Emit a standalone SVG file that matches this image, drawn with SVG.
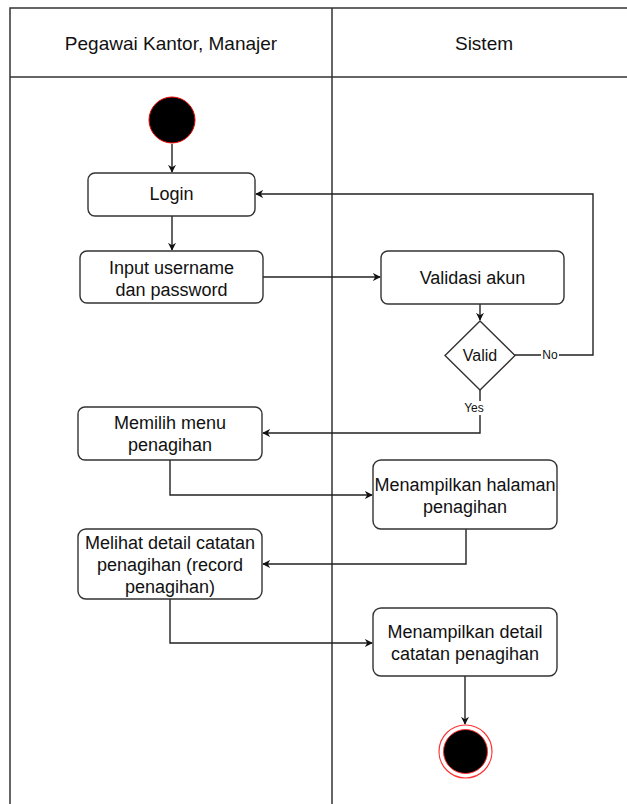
<svg xmlns="http://www.w3.org/2000/svg" width="627" height="804" viewBox="0 0 627 804">
  <style>
    .lane { fill: none; stroke: #333; stroke-width: 1.5; }
    .box { fill: #fff; stroke: #333; stroke-width: 1.4; }
    .txt { font-family: "Liberation Sans", Arial, sans-serif; font-size: 18px; fill: #111; text-anchor: middle; }
    .hdr { font-size: 19px; }
    .small { font-size: 12px; }
    .edge { fill: none; stroke: #222; stroke-width: 1.4; }
    .lbl-bg { fill: #fff; }
  </style>
  <defs>
    <marker id="arrow" viewBox="0 0 10 10" refX="9" refY="5" markerWidth="8" markerHeight="8" markerUnits="userSpaceOnUse" orient="auto">
      <path d="M0,0 L10,5 L0,10 L3,5 z" fill="#111"/>
    </marker>
  </defs>

  <rect width="627" height="804" fill="#fff"/>

  <!-- swimlanes -->
  <g id="lanes">
    <rect class="lane" x="10" y="8" width="660" height="830"/>
    <line class="lane" x1="10" y1="77" x2="670" y2="77"/>
    <line class="lane" x1="332" y1="8" x2="332" y2="838"/>
    <text class="txt hdr" x="171" y="50">Pegawai Kantor, Manajer</text>
    <text class="txt hdr" x="484" y="50">Sistem</text>
  </g>

  <!-- connectors -->
  <g id="connectors">
    <line class="edge" x1="172" y1="144" x2="172" y2="172" marker-end="url(#arrow)"/>
    <line class="edge" x1="172" y1="216" x2="172" y2="250" marker-end="url(#arrow)"/>
    <line class="edge" x1="263" y1="277" x2="380" y2="277" marker-end="url(#arrow)"/>
    <line class="edge" x1="480" y1="304" x2="480" y2="320" marker-end="url(#arrow)"/>
    <polyline class="edge" points="515,355 593,355 593,194 256,194" marker-end="url(#arrow)"/>
    <polyline class="edge" points="480,390 480,433 263,433" marker-end="url(#arrow)"/>
    <polyline class="edge" points="170,460 170,495 372,495" marker-end="url(#arrow)"/>
    <polyline class="edge" points="466,529 466,564 263,564" marker-end="url(#arrow)"/>
    <polyline class="edge" points="170,599 170,643 372,643" marker-end="url(#arrow)"/>
    <line class="edge" x1="465" y1="676" x2="465" y2="724" marker-end="url(#arrow)"/>
    <rect class="lbl-bg" x="541" y="348" width="18" height="14"/>
    <text class="txt small" x="550" y="359">No</text>
    <rect class="lbl-bg" x="462" y="401" width="23" height="14"/>
    <text class="txt small" x="474" y="412">Yes</text>
  </g>

  <!-- nodes -->
  <g id="start">
    <circle cx="172" cy="120" r="23" fill="#000" stroke="#e00" stroke-width="1"/>
  </g>
  <g id="login">
    <rect class="box" x="88" y="173" width="167" height="43" rx="7"/>
    <text class="txt" x="171.5" y="200">Login</text>
  </g>
  <g id="input">
    <rect class="box" x="80" y="251" width="183" height="52" rx="7"/>
    <text class="txt" x="171.5" y="274">Input username</text>
    <text class="txt" x="171.5" y="296">dan password</text>
  </g>
  <g id="validasi">
    <rect class="box" x="381" y="251" width="183" height="53" rx="7"/>
    <text class="txt" x="472.5" y="284">Validasi akun</text>
  </g>
  <g id="valid">
    <polygon class="box" points="480,321 515,355.5 480,390 445,355.5"/>
    <text class="txt" x="480" y="361" style="font-size:16px">Valid</text>
  </g>
  <g id="memilih">
    <rect class="box" x="78" y="407" width="184" height="53" rx="7"/>
    <text class="txt" x="170" y="429">Memilih menu</text>
    <text class="txt" x="170" y="451">penagihan</text>
  </g>
  <g id="halaman">
    <rect class="box" x="373" y="460" width="184" height="69" rx="8"/>
    <text class="txt" x="465" y="491">Menampilkan halaman</text>
    <text class="txt" x="465" y="513">penagihan</text>
  </g>
  <g id="melihat">
    <rect class="box" x="78" y="529" width="184" height="70" rx="8"/>
    <text class="txt" x="170" y="549">Melihat detail catatan</text>
    <text class="txt" x="170" y="571">penagihan (record</text>
    <text class="txt" x="170" y="593">penagihan)</text>
  </g>
  <g id="detail">
    <rect class="box" x="373" y="608" width="184" height="68" rx="8"/>
    <text class="txt" x="465" y="638">Menampilkan detail</text>
    <text class="txt" x="465" y="660">catatan penagihan</text>
  </g>
  <g id="end">
    <circle cx="465.5" cy="751.5" r="26.5" fill="#fff" stroke="#f33" stroke-width="1.2"/>
    <circle cx="465.5" cy="751.5" r="22" fill="#000" stroke="#f33" stroke-width="1"/>
  </g>
</svg>
